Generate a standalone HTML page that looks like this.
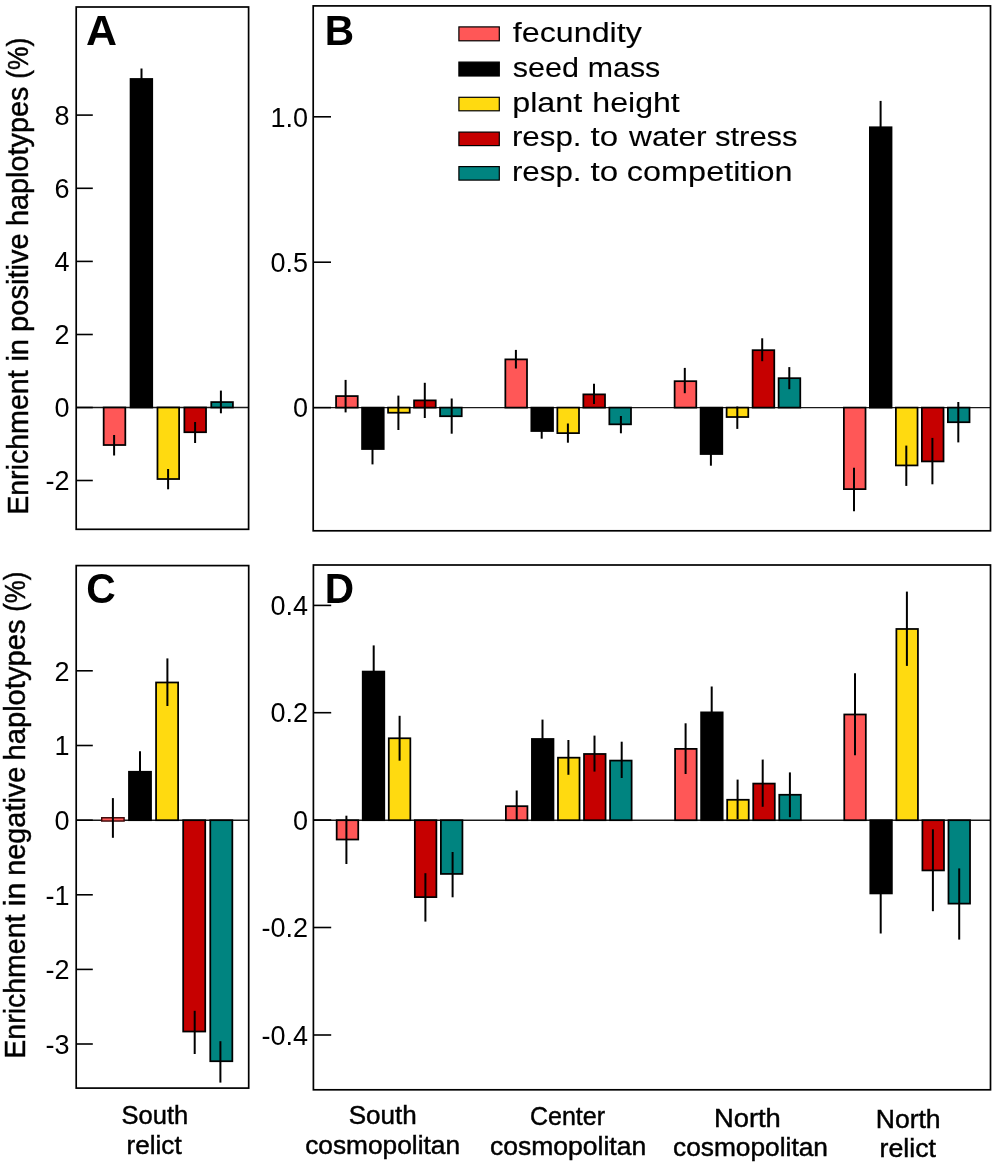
<!DOCTYPE html>
<html><head><meta charset="utf-8"><style>
html,body{margin:0;padding:0;background:#fff;width:1000px;height:1163px;overflow:hidden}
</style></head><body>
<svg width="1000" height="1163" viewBox="0 0 1000 1163" style="display:block;will-change:transform">
<g font-family='"Liberation Sans", sans-serif' fill="#000">
<line x1="76.20" y1="407.50" x2="248.60" y2="407.50" stroke="#1a1a1a" stroke-width="1.4"/>
<line x1="313.20" y1="407.60" x2="990.50" y2="407.60" stroke="#1a1a1a" stroke-width="1.4"/>
<line x1="76.20" y1="820.20" x2="248.70" y2="820.20" stroke="#1a1a1a" stroke-width="1.4"/>
<line x1="313.40" y1="820.20" x2="990.50" y2="820.20" stroke="#1a1a1a" stroke-width="1.4"/>
<rect x="103.67" y="407.50" width="21.65" height="37.52" fill="#FF5757" stroke="#000" stroke-width="1.75"/>
<rect x="130.57" y="78.97" width="21.65" height="328.52" fill="#000000" stroke="#000" stroke-width="1.75"/>
<rect x="157.47" y="407.50" width="21.65" height="71.52" fill="#FFDA10" stroke="#000" stroke-width="1.75"/>
<rect x="184.38" y="407.50" width="21.65" height="24.72" fill="#C60000" stroke="#000" stroke-width="1.75"/>
<rect x="211.27" y="402.08" width="21.65" height="5.42" fill="#008480" stroke="#000" stroke-width="1.75"/>
<line x1="114.10" y1="435.00" x2="114.10" y2="455.50" stroke="#000" stroke-width="2.0"/>
<line x1="141.50" y1="68.50" x2="141.50" y2="88.50" stroke="#000" stroke-width="2.0"/>
<line x1="168.10" y1="469.00" x2="168.10" y2="489.30" stroke="#000" stroke-width="2.0"/>
<line x1="195.10" y1="422.00" x2="195.10" y2="443.00" stroke="#000" stroke-width="2.0"/>
<line x1="220.90" y1="390.60" x2="220.90" y2="413.30" stroke="#000" stroke-width="2.0"/>
<rect x="336.07" y="396.08" width="21.65" height="11.52" fill="#FF5757" stroke="#000" stroke-width="1.75"/>
<rect x="362.07" y="407.60" width="21.65" height="41.42" fill="#000000" stroke="#000" stroke-width="1.75"/>
<rect x="388.07" y="407.60" width="21.65" height="5.12" fill="#FFDA10" stroke="#000" stroke-width="1.75"/>
<rect x="414.07" y="400.38" width="21.65" height="7.23" fill="#C60000" stroke="#000" stroke-width="1.75"/>
<rect x="440.07" y="407.60" width="21.65" height="8.62" fill="#008480" stroke="#000" stroke-width="1.75"/>
<line x1="345.60" y1="379.90" x2="345.60" y2="412.40" stroke="#000" stroke-width="2.0"/>
<line x1="372.50" y1="434.60" x2="372.50" y2="464.40" stroke="#000" stroke-width="2.0"/>
<line x1="398.40" y1="395.60" x2="398.40" y2="430.00" stroke="#000" stroke-width="2.0"/>
<line x1="424.80" y1="382.80" x2="424.80" y2="418.00" stroke="#000" stroke-width="2.0"/>
<line x1="451.70" y1="398.50" x2="451.70" y2="433.70" stroke="#000" stroke-width="2.0"/>
<rect x="505.35" y="359.38" width="21.65" height="48.23" fill="#FF5757" stroke="#000" stroke-width="1.75"/>
<rect x="531.35" y="407.60" width="21.65" height="23.42" fill="#000000" stroke="#000" stroke-width="1.75"/>
<rect x="557.35" y="407.60" width="21.65" height="25.52" fill="#FFDA10" stroke="#000" stroke-width="1.75"/>
<rect x="583.35" y="394.38" width="21.65" height="13.23" fill="#C60000" stroke="#000" stroke-width="1.75"/>
<rect x="609.35" y="407.60" width="21.65" height="16.72" fill="#008480" stroke="#000" stroke-width="1.75"/>
<line x1="515.90" y1="349.90" x2="515.90" y2="368.50" stroke="#000" stroke-width="2.0"/>
<line x1="541.70" y1="424.30" x2="541.70" y2="438.70" stroke="#000" stroke-width="2.0"/>
<line x1="567.90" y1="423.50" x2="567.90" y2="442.70" stroke="#000" stroke-width="2.0"/>
<line x1="594.00" y1="383.70" x2="594.00" y2="404.00" stroke="#000" stroke-width="2.0"/>
<line x1="620.90" y1="416.00" x2="620.90" y2="433.30" stroke="#000" stroke-width="2.0"/>
<rect x="674.62" y="381.18" width="21.65" height="26.43" fill="#FF5757" stroke="#000" stroke-width="1.75"/>
<rect x="700.62" y="407.60" width="21.65" height="46.42" fill="#000000" stroke="#000" stroke-width="1.75"/>
<rect x="726.62" y="407.60" width="21.65" height="9.42" fill="#FFDA10" stroke="#000" stroke-width="1.75"/>
<rect x="752.62" y="350.18" width="21.65" height="57.43" fill="#C60000" stroke="#000" stroke-width="1.75"/>
<rect x="778.62" y="378.18" width="21.65" height="29.43" fill="#008480" stroke="#000" stroke-width="1.75"/>
<line x1="684.80" y1="367.90" x2="684.80" y2="393.20" stroke="#000" stroke-width="2.0"/>
<line x1="710.90" y1="443.30" x2="710.90" y2="465.70" stroke="#000" stroke-width="2.0"/>
<line x1="737.30" y1="406.50" x2="737.30" y2="428.90" stroke="#000" stroke-width="2.0"/>
<line x1="762.20" y1="338.30" x2="762.20" y2="361.20" stroke="#000" stroke-width="2.0"/>
<line x1="789.30" y1="367.10" x2="789.30" y2="389.20" stroke="#000" stroke-width="2.0"/>
<rect x="843.88" y="407.60" width="21.65" height="81.52" fill="#FF5757" stroke="#000" stroke-width="1.75"/>
<rect x="869.88" y="127.27" width="21.65" height="280.33" fill="#000000" stroke="#000" stroke-width="1.75"/>
<rect x="895.88" y="407.60" width="21.65" height="57.82" fill="#FFDA10" stroke="#000" stroke-width="1.75"/>
<rect x="921.88" y="407.60" width="21.65" height="53.82" fill="#C60000" stroke="#000" stroke-width="1.75"/>
<rect x="947.88" y="407.60" width="21.65" height="14.62" fill="#008480" stroke="#000" stroke-width="1.75"/>
<line x1="854.00" y1="467.70" x2="854.00" y2="511.20" stroke="#000" stroke-width="2.0"/>
<line x1="880.60" y1="100.90" x2="880.60" y2="152.70" stroke="#000" stroke-width="2.0"/>
<line x1="906.30" y1="445.60" x2="906.30" y2="485.90" stroke="#000" stroke-width="2.0"/>
<line x1="932.40" y1="437.90" x2="932.40" y2="484.30" stroke="#000" stroke-width="2.0"/>
<line x1="958.30" y1="402.00" x2="958.30" y2="442.40" stroke="#000" stroke-width="2.0"/>
<rect x="101.70" y="817.75" width="22.40" height="3.3" fill="#FF5757" stroke="#3a0505" stroke-width="1.4"/>
<rect x="128.97" y="771.77" width="22.05" height="48.43" fill="#000000" stroke="#000" stroke-width="1.75"/>
<rect x="156.07" y="682.48" width="22.05" height="137.73" fill="#FFDA10" stroke="#000" stroke-width="1.75"/>
<rect x="183.18" y="820.20" width="22.05" height="211.33" fill="#C60000" stroke="#000" stroke-width="1.75"/>
<rect x="210.28" y="820.20" width="22.05" height="241.03" fill="#008480" stroke="#000" stroke-width="1.75"/>
<line x1="112.90" y1="798.10" x2="112.90" y2="837.80" stroke="#000" stroke-width="2.0"/>
<line x1="140.00" y1="751.20" x2="140.00" y2="791.40" stroke="#000" stroke-width="2.0"/>
<line x1="167.40" y1="658.40" x2="167.40" y2="706.00" stroke="#000" stroke-width="2.0"/>
<line x1="194.70" y1="1010.80" x2="194.70" y2="1054.00" stroke="#000" stroke-width="2.0"/>
<line x1="220.40" y1="1041.20" x2="220.40" y2="1082.60" stroke="#000" stroke-width="2.0"/>
<rect x="336.68" y="820.20" width="21.55" height="19.32" fill="#FF5757" stroke="#000" stroke-width="1.75"/>
<rect x="362.73" y="671.58" width="21.55" height="148.62" fill="#000000" stroke="#000" stroke-width="1.75"/>
<rect x="388.78" y="738.27" width="21.55" height="81.93" fill="#FFDA10" stroke="#000" stroke-width="1.75"/>
<rect x="414.83" y="820.20" width="21.55" height="76.92" fill="#C60000" stroke="#000" stroke-width="1.75"/>
<rect x="440.88" y="820.20" width="21.55" height="53.72" fill="#008480" stroke="#000" stroke-width="1.75"/>
<line x1="346.40" y1="815.70" x2="346.40" y2="864.00" stroke="#000" stroke-width="2.0"/>
<line x1="373.70" y1="645.40" x2="373.70" y2="696.80" stroke="#000" stroke-width="2.0"/>
<line x1="399.60" y1="715.80" x2="399.60" y2="760.70" stroke="#000" stroke-width="2.0"/>
<line x1="425.40" y1="873.20" x2="425.40" y2="921.60" stroke="#000" stroke-width="2.0"/>
<line x1="452.60" y1="852.00" x2="452.60" y2="897.30" stroke="#000" stroke-width="2.0"/>
<rect x="505.88" y="806.18" width="21.55" height="14.02" fill="#FF5757" stroke="#000" stroke-width="1.75"/>
<rect x="531.92" y="738.98" width="21.55" height="81.23" fill="#000000" stroke="#000" stroke-width="1.75"/>
<rect x="557.98" y="757.68" width="21.55" height="62.52" fill="#FFDA10" stroke="#000" stroke-width="1.75"/>
<rect x="584.02" y="753.98" width="21.55" height="66.23" fill="#C60000" stroke="#000" stroke-width="1.75"/>
<rect x="610.08" y="760.58" width="21.55" height="59.62" fill="#008480" stroke="#000" stroke-width="1.75"/>
<line x1="516.70" y1="790.50" x2="516.70" y2="820.90" stroke="#000" stroke-width="2.0"/>
<line x1="542.50" y1="719.60" x2="542.50" y2="757.40" stroke="#000" stroke-width="2.0"/>
<line x1="568.40" y1="740.00" x2="568.40" y2="774.80" stroke="#000" stroke-width="2.0"/>
<line x1="594.50" y1="735.60" x2="594.50" y2="771.60" stroke="#000" stroke-width="2.0"/>
<line x1="621.70" y1="741.70" x2="621.70" y2="778.00" stroke="#000" stroke-width="2.0"/>
<rect x="675.08" y="748.88" width="21.55" height="71.33" fill="#FF5757" stroke="#000" stroke-width="1.75"/>
<rect x="701.12" y="712.38" width="21.55" height="107.83" fill="#000000" stroke="#000" stroke-width="1.75"/>
<rect x="727.18" y="799.77" width="21.55" height="20.43" fill="#FFDA10" stroke="#000" stroke-width="1.75"/>
<rect x="753.23" y="783.58" width="21.55" height="36.62" fill="#C60000" stroke="#000" stroke-width="1.75"/>
<rect x="779.28" y="794.77" width="21.55" height="25.43" fill="#008480" stroke="#000" stroke-width="1.75"/>
<line x1="685.60" y1="723.30" x2="685.60" y2="774.00" stroke="#000" stroke-width="2.0"/>
<line x1="711.70" y1="686.50" x2="711.70" y2="737.30" stroke="#000" stroke-width="2.0"/>
<line x1="737.60" y1="779.60" x2="737.60" y2="819.00" stroke="#000" stroke-width="2.0"/>
<line x1="762.70" y1="759.60" x2="762.70" y2="806.80" stroke="#000" stroke-width="2.0"/>
<line x1="789.90" y1="772.40" x2="789.90" y2="817.20" stroke="#000" stroke-width="2.0"/>
<rect x="844.27" y="714.48" width="21.55" height="105.73" fill="#FF5757" stroke="#000" stroke-width="1.75"/>
<rect x="870.32" y="820.20" width="21.55" height="73.22" fill="#000000" stroke="#000" stroke-width="1.75"/>
<rect x="896.38" y="628.98" width="21.55" height="191.23" fill="#FFDA10" stroke="#000" stroke-width="1.75"/>
<rect x="922.42" y="820.20" width="21.55" height="50.22" fill="#C60000" stroke="#000" stroke-width="1.75"/>
<rect x="948.48" y="820.20" width="21.55" height="83.42" fill="#008480" stroke="#000" stroke-width="1.75"/>
<line x1="855.00" y1="673.20" x2="855.00" y2="755.30" stroke="#000" stroke-width="2.0"/>
<line x1="880.70" y1="854.30" x2="880.70" y2="933.50" stroke="#000" stroke-width="2.0"/>
<line x1="906.90" y1="591.60" x2="906.90" y2="665.90" stroke="#000" stroke-width="2.0"/>
<line x1="932.90" y1="829.30" x2="932.90" y2="911.20" stroke="#000" stroke-width="2.0"/>
<line x1="959.20" y1="868.40" x2="959.20" y2="939.60" stroke="#000" stroke-width="2.0"/>
<rect x="76.20" y="7.00" width="172.40" height="522.30" fill="none" stroke="#000" stroke-width="1.7"/>
<rect x="313.20" y="5.90" width="677.30" height="524.90" fill="none" stroke="#000" stroke-width="1.7"/>
<rect x="76.20" y="565.60" width="172.50" height="522.50" fill="none" stroke="#000" stroke-width="1.7"/>
<rect x="313.40" y="565.00" width="677.10" height="524.80" fill="none" stroke="#000" stroke-width="1.7"/>
<line x1="76.20" y1="115.10" x2="92.80" y2="115.10" stroke="#000" stroke-width="1.6"/>
<text x="69.50" y="124.80" font-size="27" text-anchor="end" font-weight="normal">8</text>
<line x1="76.20" y1="188.30" x2="92.80" y2="188.30" stroke="#000" stroke-width="1.6"/>
<text x="69.50" y="198.00" font-size="27" text-anchor="end" font-weight="normal">6</text>
<line x1="76.20" y1="261.40" x2="92.80" y2="261.40" stroke="#000" stroke-width="1.6"/>
<text x="69.50" y="271.10" font-size="27" text-anchor="end" font-weight="normal">4</text>
<line x1="76.20" y1="334.50" x2="92.80" y2="334.50" stroke="#000" stroke-width="1.6"/>
<text x="69.50" y="344.20" font-size="27" text-anchor="end" font-weight="normal">2</text>
<line x1="76.20" y1="407.50" x2="92.80" y2="407.50" stroke="#000" stroke-width="1.6"/>
<text x="69.50" y="417.20" font-size="27" text-anchor="end" font-weight="normal">0</text>
<line x1="76.20" y1="480.50" x2="92.80" y2="480.50" stroke="#000" stroke-width="1.6"/>
<text x="69.50" y="490.20" font-size="27" text-anchor="end" font-weight="normal">-2</text>
<line x1="313.20" y1="116.80" x2="331.00" y2="116.80" stroke="#000" stroke-width="1.6"/>
<text x="308.00" y="126.50" font-size="27" text-anchor="end" font-weight="normal">1.0</text>
<line x1="313.20" y1="262.20" x2="331.00" y2="262.20" stroke="#000" stroke-width="1.6"/>
<text x="308.00" y="271.90" font-size="27" text-anchor="end" font-weight="normal">0.5</text>
<line x1="313.20" y1="407.60" x2="331.00" y2="407.60" stroke="#000" stroke-width="1.6"/>
<text x="308.00" y="417.30" font-size="27" text-anchor="end" font-weight="normal">0</text>
<line x1="76.20" y1="670.80" x2="92.80" y2="670.80" stroke="#000" stroke-width="1.6"/>
<text x="69.50" y="680.50" font-size="27" text-anchor="end" font-weight="normal">2</text>
<line x1="76.20" y1="745.50" x2="92.80" y2="745.50" stroke="#000" stroke-width="1.6"/>
<text x="69.50" y="755.20" font-size="27" text-anchor="end" font-weight="normal">1</text>
<line x1="76.20" y1="820.20" x2="92.80" y2="820.20" stroke="#000" stroke-width="1.6"/>
<text x="69.50" y="829.90" font-size="27" text-anchor="end" font-weight="normal">0</text>
<line x1="76.20" y1="894.80" x2="92.80" y2="894.80" stroke="#000" stroke-width="1.6"/>
<text x="69.50" y="904.50" font-size="27" text-anchor="end" font-weight="normal">-1</text>
<line x1="76.20" y1="969.40" x2="92.80" y2="969.40" stroke="#000" stroke-width="1.6"/>
<text x="69.50" y="979.10" font-size="27" text-anchor="end" font-weight="normal">-2</text>
<line x1="76.20" y1="1044.00" x2="92.80" y2="1044.00" stroke="#000" stroke-width="1.6"/>
<text x="69.50" y="1053.70" font-size="27" text-anchor="end" font-weight="normal">-3</text>
<line x1="313.40" y1="605.40" x2="331.20" y2="605.40" stroke="#000" stroke-width="1.6"/>
<text x="308.00" y="615.10" font-size="27" text-anchor="end" font-weight="normal">0.4</text>
<line x1="313.40" y1="712.70" x2="331.20" y2="712.70" stroke="#000" stroke-width="1.6"/>
<text x="308.00" y="722.40" font-size="27" text-anchor="end" font-weight="normal">0.2</text>
<line x1="313.40" y1="820.00" x2="331.20" y2="820.00" stroke="#000" stroke-width="1.6"/>
<text x="308.00" y="829.70" font-size="27" text-anchor="end" font-weight="normal">0</text>
<line x1="313.40" y1="927.50" x2="331.20" y2="927.50" stroke="#000" stroke-width="1.6"/>
<text x="308.00" y="937.20" font-size="27" text-anchor="end" font-weight="normal">-0.2</text>
<line x1="313.40" y1="1035.00" x2="331.20" y2="1035.00" stroke="#000" stroke-width="1.6"/>
<text x="308.00" y="1044.70" font-size="27" text-anchor="end" font-weight="normal">-0.4</text>
<rect x="458.90" y="26.90" width="40.40" height="13.90" fill="#FF5757" stroke="#000" stroke-width="1.2"/>
<rect x="458.90" y="62.10" width="40.40" height="13.90" fill="#000000" stroke="#000" stroke-width="1.2"/>
<rect x="458.90" y="97.30" width="40.40" height="13.50" fill="#FFDA10" stroke="#000" stroke-width="1.2"/>
<rect x="458.90" y="132.10" width="40.40" height="13.50" fill="#C60000" stroke="#000" stroke-width="1.2"/>
<rect x="458.90" y="166.60" width="40.40" height="13.50" fill="#008480" stroke="#000" stroke-width="1.2"/>
<text x="512.79" y="41.80" font-size="27.5" text-anchor="start" font-weight="normal" textLength="129.02" lengthAdjust="spacingAndGlyphs" stroke="#000" stroke-width="0.1">fecundity</text>
<text x="512.77" y="76.80" font-size="27.5" text-anchor="start" font-weight="normal" textLength="66.25" lengthAdjust="spacingAndGlyphs" stroke="#000" stroke-width="0.1">seed</text>
<text x="587.77" y="76.80" font-size="27.5" text-anchor="start" font-weight="normal" textLength="72.45" lengthAdjust="spacingAndGlyphs" stroke="#000" stroke-width="0.1">mass</text>
<text x="512.18" y="111.60" font-size="27.5" text-anchor="start" font-weight="normal" textLength="70.05" lengthAdjust="spacingAndGlyphs" stroke="#000" stroke-width="0.1">plant</text>
<text x="592.29" y="111.60" font-size="27.5" text-anchor="start" font-weight="normal" textLength="87.53" lengthAdjust="spacingAndGlyphs" stroke="#000" stroke-width="0.1">height</text>
<text x="511.92" y="146.20" font-size="27.5" text-anchor="start" font-weight="normal" textLength="69.62" lengthAdjust="spacingAndGlyphs" stroke="#000" stroke-width="0.1">resp.</text>
<text x="590.54" y="146.20" font-size="27.5" text-anchor="start" font-weight="normal" textLength="27.61" lengthAdjust="spacingAndGlyphs" stroke="#000" stroke-width="0.1">to</text>
<text x="629.09" y="146.20" font-size="27.5" text-anchor="start" font-weight="normal" textLength="77.52" lengthAdjust="spacingAndGlyphs" stroke="#000" stroke-width="0.1">water</text>
<text x="714.99" y="146.20" font-size="27.5" text-anchor="start" font-weight="normal" textLength="82.62" lengthAdjust="spacingAndGlyphs" stroke="#000" stroke-width="0.1">stress</text>
<text x="511.92" y="180.80" font-size="27.5" text-anchor="start" font-weight="normal" textLength="69.62" lengthAdjust="spacingAndGlyphs" stroke="#000" stroke-width="0.1">resp.</text>
<text x="590.54" y="180.80" font-size="27.5" text-anchor="start" font-weight="normal" textLength="27.61" lengthAdjust="spacingAndGlyphs" stroke="#000" stroke-width="0.1">to</text>
<text x="626.88" y="180.80" font-size="27.5" text-anchor="start" font-weight="normal" textLength="165.75" lengthAdjust="spacingAndGlyphs" stroke="#000" stroke-width="0.1">competition</text>
<text x="121.59" y="1124.00" font-size="25.7" text-anchor="start" font-weight="normal" textLength="66.63" lengthAdjust="spacingAndGlyphs" stroke="#000" stroke-width="0.45">South</text>
<text x="126.62" y="1154.20" font-size="25.7" text-anchor="start" font-weight="normal" textLength="55.02" lengthAdjust="spacingAndGlyphs" stroke="#000" stroke-width="0.45">relict</text>
<text x="348.75" y="1124.40" font-size="25.7" text-anchor="start" font-weight="normal" textLength="68.08" lengthAdjust="spacingAndGlyphs" stroke="#000" stroke-width="0.45">South</text>
<text x="305.19" y="1154.20" font-size="25.7" text-anchor="start" font-weight="normal" textLength="154.81" lengthAdjust="spacingAndGlyphs" stroke="#000" stroke-width="0.45">cosmopolitan</text>
<text x="530.01" y="1125.00" font-size="25.7" text-anchor="start" font-weight="normal" textLength="74.99" lengthAdjust="spacingAndGlyphs" stroke="#000" stroke-width="0.45">Center</text>
<text x="489.99" y="1154.50" font-size="25.7" text-anchor="start" font-weight="normal" textLength="156.22" lengthAdjust="spacingAndGlyphs" stroke="#000" stroke-width="0.45">cosmopolitan</text>
<text x="713.96" y="1126.50" font-size="25.7" text-anchor="start" font-weight="normal" textLength="66.89" lengthAdjust="spacingAndGlyphs" stroke="#000" stroke-width="0.45">North</text>
<text x="673.00" y="1156.00" font-size="25.7" text-anchor="start" font-weight="normal" textLength="155.00" lengthAdjust="spacingAndGlyphs" stroke="#000" stroke-width="0.45">cosmopolitan</text>
<text x="875.74" y="1127.60" font-size="25.7" text-anchor="start" font-weight="normal" textLength="64.91" lengthAdjust="spacingAndGlyphs" stroke="#000" stroke-width="0.45">North</text>
<text x="879.60" y="1157.00" font-size="25.7" text-anchor="start" font-weight="normal" textLength="56.40" lengthAdjust="spacingAndGlyphs" stroke="#000" stroke-width="0.45">relict</text>
<text transform="translate(27.60,514.87) rotate(-90)" font-size="30" textLength="144.48" lengthAdjust="spacingAndGlyphs" stroke="#000" stroke-width="0.45">Enrichment</text>
<text transform="translate(27.60,361.60) rotate(-90)" font-size="30" textLength="22.67" lengthAdjust="spacingAndGlyphs" stroke="#000" stroke-width="0.45">in</text>
<text transform="translate(27.80,331.89) rotate(-90)" font-size="30" textLength="98.49" lengthAdjust="spacingAndGlyphs" stroke="#000" stroke-width="0.45">positive</text>
<text transform="translate(28.00,225.98) rotate(-90)" font-size="30" textLength="139.38" lengthAdjust="spacingAndGlyphs" stroke="#000" stroke-width="0.45">haplotypes</text>
<text transform="translate(28.20,78.70) rotate(-90)" font-size="30" textLength="40.91" lengthAdjust="spacingAndGlyphs" stroke="#000" stroke-width="0.45">(%)</text>
<text transform="translate(24.80,1058.67) rotate(-90)" font-size="30" textLength="144.08" lengthAdjust="spacingAndGlyphs" stroke="#000" stroke-width="0.45">Enrichment</text>
<text transform="translate(24.80,906.25) rotate(-90)" font-size="30" textLength="23.74" lengthAdjust="spacingAndGlyphs" stroke="#000" stroke-width="0.45">in</text>
<text transform="translate(24.80,875.79) rotate(-90)" font-size="30" textLength="109.08" lengthAdjust="spacingAndGlyphs" stroke="#000" stroke-width="0.45">negative</text>
<text transform="translate(24.80,760.51) rotate(-90)" font-size="30" textLength="141.02" lengthAdjust="spacingAndGlyphs" stroke="#000" stroke-width="0.45">haplotypes</text>
<text transform="translate(24.80,611.79) rotate(-90)" font-size="30" textLength="40.22" lengthAdjust="spacingAndGlyphs" stroke="#000" stroke-width="0.45">(%)</text>
<text x="86.00" y="45.00" font-size="42.4" text-anchor="start" font-weight="bold" textLength="31.00" lengthAdjust="spacingAndGlyphs">A</text>
<text x="324.83" y="45.00" font-size="42.4" text-anchor="start" font-weight="bold" textLength="29.35" lengthAdjust="spacingAndGlyphs">B</text>
<text x="86.36" y="602.70" font-size="42.4" text-anchor="start" font-weight="bold" textLength="29.50" lengthAdjust="spacingAndGlyphs">C</text>
<text x="324.83" y="602.50" font-size="42.4" text-anchor="start" font-weight="bold" textLength="29.35" lengthAdjust="spacingAndGlyphs">D</text>
</g></svg>
</body></html>
